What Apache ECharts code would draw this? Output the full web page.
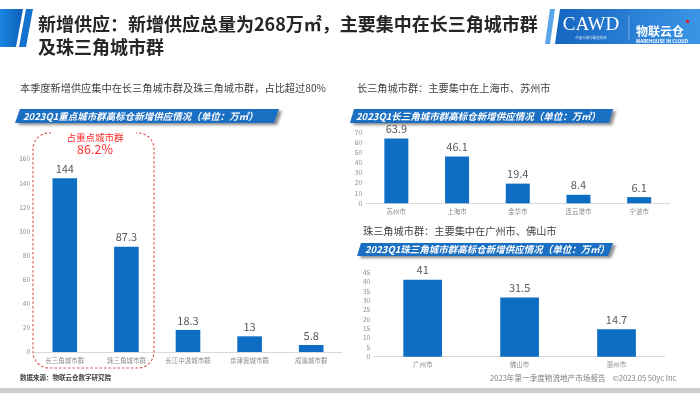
<!DOCTYPE html>
<html>
<head>
<meta charset="utf-8">
<script src="https://cdn.jsdelivr.net/npm/echarts@6/dist/echarts.min.js"></script>
<style>
html,body{margin:0;padding:0;background:#fff;}
#main{width:700px;height:393px;}
</style>
</head>
<body>
<div id="main"></div>
<script>
// ---- data ----
const clusterCats = ['长三角城市群', '珠三角城市群', '长江中游城市群', '京津冀城市群', '成渝城市群'];
const clusterVals = [144, 87.3, 18.3, 13, 5.8];
const clusterTicks = [0, 20, 40, 60, 80, 100, 120, 140, 160];

const yrdCats = ['苏州市', '上海市', '金华市', '连云港市', '宁波市'];
const yrdVals = [63.9, 46.1, 19.4, 8.4, 6.1];
const yrdTicks = [0, 10, 20, 30, 40, 50, 60, 70];

const prdCats = ['广州市', '佛山市', '惠州市'];
const prdVals = [41, 31.5, 14.7];
const prdTicks = [0, 5, 10, 15, 20, 25, 30, 35, 40, 45];

const mainTitle1 = '新增供应：新增供应总量为268万㎡，主要集中在长三角城市群';
const mainTitle2 = '及珠三角城市群';
const leftSub = '本季度新增供应集中在长三角城市群及珠三角城市群，占比超过80%';
const leftBand = '2023Q1重点城市群高标仓新增供应情况（单位：万㎡）';
const yrdSub = '长三角城市群：主要集中在上海市、苏州市';
const yrdBand = '2023Q1长三角城市群高标仓新增供应情况（单位：万㎡）';
const prdSub = '珠三角城市群：主要集中在广州市、佛山市';
const prdBand = '2023Q1珠三角城市群高标仓新增供应情况（单位：万㎡）';
const shareLabel = '占重点城市群';
const shareValue = '86.2%';
const sourceText = '数据来源：物联云仓数字研究院';
const footerText = '2023年第一季度物流地产市场报告    ©2023.05 50yc Inc';

const FONT = '"Noto Sans CJK SC","Noto Sans",sans-serif';
const BAR = '#0d6ec4';

function yAxisFor(ticks, gi) {
  return {
    type: 'value', gridIndex: gi,
    min: ticks[0], max: ticks[ticks.length - 1], interval: ticks[1] - ticks[0],
    axisLine: {show: false}, axisTick: {show: false}, splitLine: {show: false},
    axisLabel: {fontSize: 6.5, color: '#8c8c8c', margin: 4, fontFamily: FONT}
  };
}
function xAxisFor(cats, gi) {
  return {
    type: 'category', gridIndex: gi, data: cats,
    axisLine: {lineStyle: {color: '#d9d9d9', width: 1}},
    axisTick: {show: false},
    axisLabel: {fontSize: 6.5, color: '#8c8c8c', margin: 5, fontFamily: FONT, interval: 0}
  };
}
function barSeries(vals, gi, w) {
  return {
    type: 'bar', xAxisIndex: gi, yAxisIndex: gi, data: vals, barWidth: w,
    itemStyle: {color: BAR},
    label: {show: true, position: 'top', distance: 4, fontSize: 11, color: '#595959', fontFamily: FONT},
    silent: true, animation: false
  };
}
function band(points, text, tx, ty) {
  return [
    {type: 'polygon', shape: {points: points}, z: 10,
     style: {fill: '#1a6fc2', shadowColor: 'rgba(0,0,0,0.45)', shadowBlur: 3, shadowOffsetX: 3, shadowOffsetY: 2}},
    {type: 'text', x: tx, y: ty, z: 11,
     style: {text: text, fill: '#fff', font: 'italic bold 9.5px ' + FONT, textVerticalAlign: 'middle'}}
  ];
}

const chart = echarts.init(document.getElementById('main'), null, {renderer: 'canvas'});

const graphics = [].concat(
  // header left decoration
  [{type: 'polygon', shape: {points: [[0, 9], [23, 9], [16, 47], [0, 47]]},
    style: {fill: new echarts.graphic.LinearGradient(0, 0, 1, 0, [{offset: 0, color: '#1a86e0'}, {offset: 1, color: '#0d5fb8'}])}},
   {type: 'polygon', shape: {points: [[26, 9], [33, 9], [26, 47], [19, 47]]}, style: {fill: '#1473cf'}},
   {type: 'text', x: 38, y: 24, style: {text: mainTitle1, font: 'bold 18px ' + FONT, fill: '#262626', textVerticalAlign: 'middle'}},
   {type: 'text', x: 38, y: 47, style: {text: mainTitle2, font: 'bold 18px ' + FONT, fill: '#262626', textVerticalAlign: 'middle'}},
   // logo
   {type: 'polygon', shape: {points: [[550, 9], [555, 9], [550, 44], [545, 44]]}, style: {fill: '#5aa6ea'}},
   {type: 'polygon', shape: {points: [[560, 9], [700, 9], [700, 44], [555, 44]]},
    style: {fill: new echarts.graphic.LinearGradient(0, 0, 1, 0, [{offset: 0, color: '#1565c0'}, {offset: 1, color: '#3b95e6'}])}},
   {type: 'text', x: 591, y: 25, style: {text: 'CAWD', font: '19px "Liberation Serif",serif', fill: '#fff', textAlign: 'center', textVerticalAlign: 'middle'}},
   {type: 'text', x: 591, y: 38, style: {text: '中国仓储与配送协会', font: '3.5px ' + FONT, fill: '#dbe9f8', textAlign: 'center', textVerticalAlign: 'middle'}},
   {type: 'line', shape: {x1: 629, y1: 15, x2: 629, y2: 40}, style: {stroke: 'rgba(255,255,255,0.6)', lineWidth: 0.6}},
   {type: 'text', x: 636, y: 31, style: {text: '物联云仓', font: 'bold 12px ' + FONT, fill: '#fff', textVerticalAlign: 'middle'}},
   {type: 'text', x: 636, y: 41, style: {text: 'WAREHOUSE IN CLOUD', font: 'bold 4.6px ' + FONT, fill: '#fff', textVerticalAlign: 'middle'}},
   {type: 'rect', shape: {x: 686, y: 20, width: 3, height: 3}, style: {fill: '#e02020'}}
  ],
  // subtitles
  [{type: 'text', x: 20, y: 88, style: {text: leftSub, font: '10.2px ' + FONT, fill: '#404040', textVerticalAlign: 'middle'}},
   {type: 'text', x: 357, y: 88, style: {text: yrdSub, font: '10.2px ' + FONT, fill: '#404040', textVerticalAlign: 'middle'}},
   {type: 'text', x: 363, y: 231, style: {text: prdSub, font: '10.2px ' + FONT, fill: '#404040', textVerticalAlign: 'middle'}}
  ],
  band([[20, 109], [279, 109], [274, 123], [15, 123]], leftBand, 23, 116),
  band([[354, 109], [613, 109], [609, 123], [350, 123]], yrdBand, 356, 116),
  band([[361, 243], [613, 243], [608, 256], [357, 256]], prdBand, 365, 249.5),
  // dashed highlight
  [{type: 'rect', shape: {x: 33, y: 133, width: 121, height: 235, r: 16}, z: 5,
    style: {fill: 'none', stroke: '#e05252', lineWidth: 1.1, lineDash: [2.5, 2]}},
   {type: 'rect', shape: {x: 51, y: 129, width: 85, height: 9}, z: 6, style: {fill: '#fff'}},
   {type: 'text', x: 95, y: 137, z: 7, style: {text: shareLabel, font: '9.5px ' + FONT, fill: '#ff2a2a', textAlign: 'center', textVerticalAlign: 'middle'}},
   {type: 'text', x: 95, y: 149, z: 7, style: {text: shareValue, font: '12.5px ' + FONT, fill: '#ff2a2a', textAlign: 'center', textVerticalAlign: 'middle'}}
  ],
  // footer
  [{type: 'text', x: 20, y: 378, style: {text: sourceText, font: 'bold 6.5px ' + FONT, fill: '#404040', textVerticalAlign: 'middle'}},
   {type: 'text', x: 490, y: 378, style: {text: footerText, font: '7.6px ' + FONT, fill: '#808080', textVerticalAlign: 'middle'}},
   {type: 'rect', shape: {x: 0, y: 388, width: 700, height: 5}, style: {fill: '#cccccc'}}
  ]
);

chart.setOption({
  animation: false,
  textStyle: {fontFamily: FONT},
  grid: [
    {left: 34, right: 358, top: 159, bottom: 41},
    {left: 366, right: 30.5, top: 132.3, bottom: 189.7},
    {left: 374.2, right: 35, top: 272.3, bottom: 36.3}
  ],
  xAxis: [xAxisFor(clusterCats, 0), xAxisFor(yrdCats, 1), xAxisFor(prdCats, 2)],
  yAxis: [yAxisFor(clusterTicks, 0), yAxisFor(yrdTicks, 1), yAxisFor(prdTicks, 2)],
  series: [barSeries(clusterVals, 0, 24.6), barSeries(yrdVals, 1, 24), barSeries(prdVals, 2, 38.7)],
  graphic: graphics
});
</script>
</body>
</html>
